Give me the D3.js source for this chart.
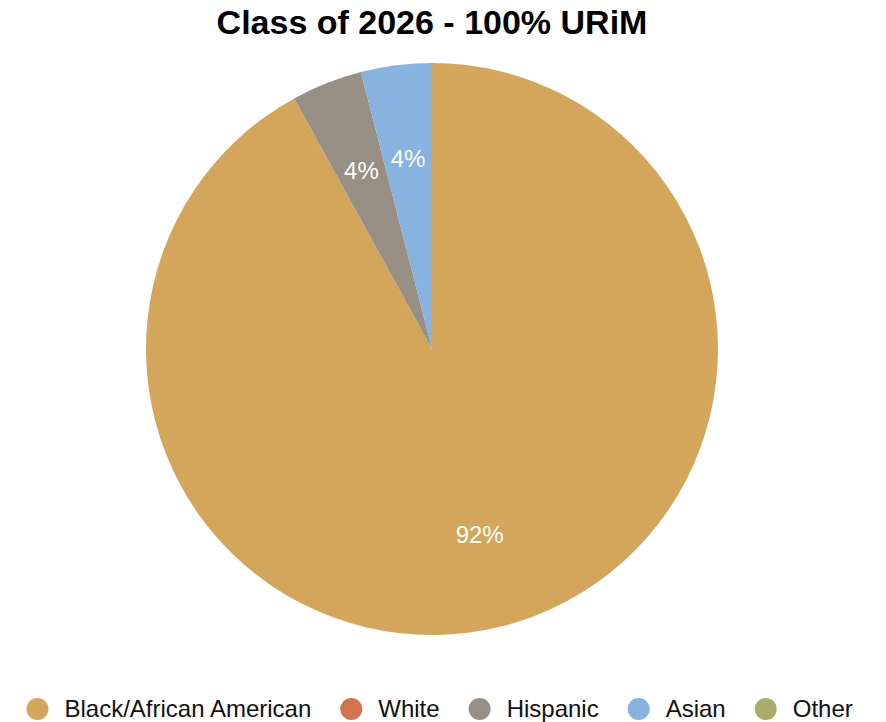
<!DOCTYPE html>
<html>
<head>
<meta charset="utf-8">
<script src="https://cdn.jsdelivr.net/npm/d3@7"></script>
<style>
  body { margin: 0; background: #fff; }
  svg text { font-family: "Liberation Sans", Arial, Helvetica, sans-serif; }
</style>
</head>
<body>
<div id="chart"></div>
<script>
// data
const categories = ['Black/African American', 'White', 'Hispanic', 'Asian', 'Other'];
const counts = [23, 0, 1, 1, 0];
const colors = ['#D4A65C', '#D2734D', '#978F84', '#88B3DE', '#A9AD6A'];
const title = 'Class of 2026 - 100% URiM';

const svgWidth = 886, svgHeight = 722;
const cx = 432, cy = 349, radius = 286;

const svg = d3.select('#chart')
    .append('svg')
    .attr('width', svgWidth)
    .attr('height', svgHeight);

svg.append('text')
    .attr('x', cx)
    .attr('y', 34)
    .attr('text-anchor', 'middle')
    .attr('font-size', 34)
    .attr('font-weight', 'bold')
    .text(title);

const data = categories.map((c, i) => ({ group: c, cnt: counts[i], color: colors[i] }));
const total = d3.sum(counts);

const pie = d3.pie().sort(null).value(d => d.cnt);
const arc = d3.arc().innerRadius(0).outerRadius(radius);
const labelArc = d3.arc().innerRadius(radius * 0.67).outerRadius(radius * 0.67);

const g = svg.append('g')
    .attr('transform', 'translate(' + cx + ',' + cy + ')');

const arcs = pie(data);

g.selectAll('path.slice')
    .data(arcs)
    .enter().append('path')
    .attr('class', 'slice')
    .attr('d', arc)
    .attr('fill', d => d.data.color);

g.selectAll('text.pct')
    .data(arcs.filter(d => d.data.cnt > 0))
    .enter().append('text')
    .attr('class', 'pct')
    .attr('transform', d => 'translate(' + labelArc.centroid(d) + ')')
    .attr('text-anchor', 'middle')
    .attr('dy', '0.35em')
    .attr('font-size', 24)
    .attr('fill', '#fff')
    .text(d => Math.round(d.data.cnt / total * 100) + '%');

// legend along the bottom
const legend = svg.append('g').attr('class', 'legend');
let xPos = 0;
data.forEach((d, i) => {
    const item = legend.append('g').attr('transform', 'translate(' + xPos + ',0)');
    item.append('circle')
        .attr('cx', 0)
        .attr('cy', 0)
        .attr('r', 11)
        .attr('fill', d.color);
    const t = item.append('text')
        .attr('x', 27)
        .attr('y', 0)
        .attr('dy', '0.35em')
        .attr('font-size', 24)
        .attr('fill', '#111')
        .text(d.group);
    xPos += 27 + t.node().getComputedTextLength() + 40;
});
legend.attr('transform', 'translate(37.5,709)');
</script>
</body>
</html>
